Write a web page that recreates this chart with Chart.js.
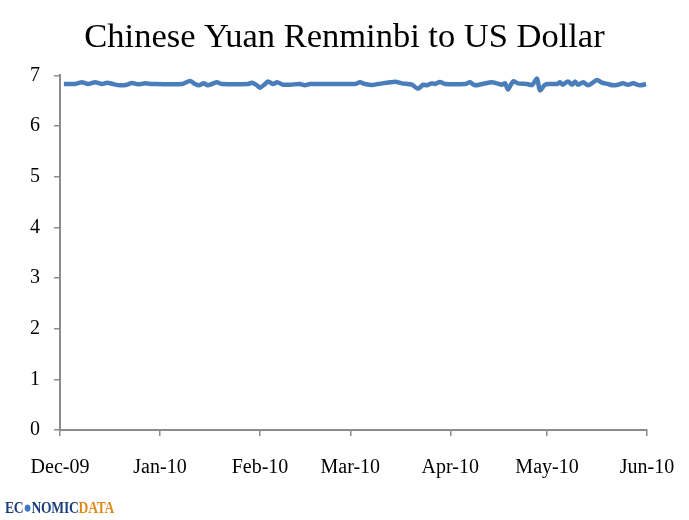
<!DOCTYPE html>
<html>
<head>
<meta charset="utf-8">
<script src="https://cdn.jsdelivr.net/npm/chart.js@4.4.1/dist/chart.umd.min.js"></script>
<style>
  html, body { margin:0; padding:0; background:#fff; }
  #wrap { position:relative; width:689px; height:520px; }
  #logo { position:absolute; left:5px; top:498px; font-family:"Liberation Serif", serif; font-weight:bold;
          font-size:17px; letter-spacing:-0.3px; transform:scaleX(0.8); transform-origin:left top; }
  #logo .a { color:#1d3f7a; }
  #logo .g { color:#3a78c2; }
  #logo .b { color:#e08a1e; }
</style>
</head>
<body>
<div id="wrap">
  <canvas id="fx" width="689" height="520"></canvas>
  <div id="logo"><span class="a">EC</span><span class="g">&#x25CF;</span><span class="a">NOMIC</span><span class="b">DATA</span></div>
</div>
<script>
// days since 1 Dec 2009
const days = [1.2, 4.7, 6.8, 8.7, 10.9, 13, 14.6, 16.4, 18.6, 20.8, 22.3, 24.2, 26.4, 28.5, 37.8, 40.3, 41.9, 43.1,
  44.6, 45.8, 47.1, 48.7, 50.2, 58.3, 59.5, 61.1, 62, 63.6, 64.5, 66, 67.3, 69.2, 71.3, 74.4, 75.9, 77.5, 89.9,
  91.5, 93, 94.6, 96.7, 98.6, 103.9, 106, 109.1, 111, 112.6, 113.8, 115.3, 116.3, 117.8, 119.4, 125.6, 127.1,
  128.7, 130.9, 133.9, 135.5, 137, 138, 138.9, 140.5, 142, 144.8, 146.4, 147.9, 148.8, 150.4, 151.9, 154.1,
  155, 155.9, 157.5, 158.8, 159.7, 160.6, 162.2, 163.7, 165.3, 166.5, 168, 169.9, 171.5, 173, 174.6, 176.1,
  177.7, 179.8, 181.7];
const rate = [6.83, 6.83, 6.863, 6.83, 6.863, 6.83, 6.856, 6.83, 6.804, 6.817, 6.85, 6.823, 6.843, 6.83, 6.83, 6.889, 6.83, 6.804,
  6.843, 6.804, 6.83, 6.863, 6.83, 6.83, 6.856, 6.804, 6.758, 6.83, 6.882, 6.83, 6.863, 6.817, 6.817, 6.83, 6.804, 6.83, 6.83,
  6.83, 6.863, 6.83, 6.81, 6.83, 6.876, 6.843, 6.817, 6.738, 6.817, 6.804, 6.843, 6.83, 6.869, 6.83, 6.83, 6.863,
  6.804, 6.83, 6.863, 6.843, 6.817, 6.843, 6.72, 6.882, 6.843, 6.83, 6.81, 6.935, 6.706, 6.817, 6.83, 6.83,
  6.863, 6.817, 6.882, 6.817, 6.882, 6.817, 6.863, 6.804, 6.863, 6.909, 6.856, 6.83, 6.804, 6.817, 6.843, 6.817,
  6.843, 6.804, 6.83];
const monthDays = [0, 31, 62, 90, 121, 151, 182];
const monthLabels = ['Dec-09', 'Jan-10', 'Feb-10', 'Mar-10', 'Apr-10', 'May-10', 'Jun-10'];

const axisGray = '#8c8c8c';
const serif = '"Liberation Serif", "Times New Roman", serif';

new Chart(document.getElementById('fx'), {
  type: 'line',
  data: {
    datasets: [{
      data: days.map((d, i) => ({x: d, y: rate[i]})),
      borderColor: '#4a7ebb', borderWidth: 4.5, pointRadius: 0, tension: 0.25, fill: false
    }]
  },
  options: {
    responsive: false, animation: false, devicePixelRatio: 1,
    layout: { padding: { top: 0, right: 0, bottom: 30, left: 0 } },
    plugins: {
      legend: { display: false }, tooltip: { enabled: false },
      title: { display: true, text: 'Chinese Yuan Renminbi to US Dollar', color: '#000',
               font: { family: serif, size: 34.5, weight: 'normal' }, padding: { top: 17, bottom: 17 } }
    },
    scales: {
      x: {
        type: 'linear', min: 0, max: 182,
        afterBuildTicks: s => { s.ticks = monthDays.map(v => ({value: v})); },
        afterFit: s => { s.height = 60; s.paddingLeft = 0; s.paddingRight = 0; },
        ticks: { autoSkip: false, maxRotation: 0, padding: 20, color: '#000',
                 font: { family: serif, size: 20 },
                 callback: v => monthLabels[monthDays.indexOf(v)] },
        grid: { drawOnChartArea: false, color: axisGray, tickLength: 6, lineWidth: 1.5 },
        border: { color: axisGray, width: 2 }
      },
      y: {
        min: 0, max: 7,
        afterFit: s => { s.width = 60; },
        ticks: { stepSize: 1, padding: 14, color: '#000', font: { family: serif, size: 20 } },
        grid: { drawOnChartArea: false, color: axisGray, tickLength: 6, lineWidth: 1.5 },
        border: { color: axisGray, width: 2 }
      },
      // empty right-hand strip so the plot ends where the reference does
      yPad: {
        position: 'right', min: 0, max: 7,
        afterFit: s => { s.width = 42; },
        ticks: { display: false }, grid: { display: false }, border: { display: false }
      }
    }
  }
});
</script>
</body>
</html>
